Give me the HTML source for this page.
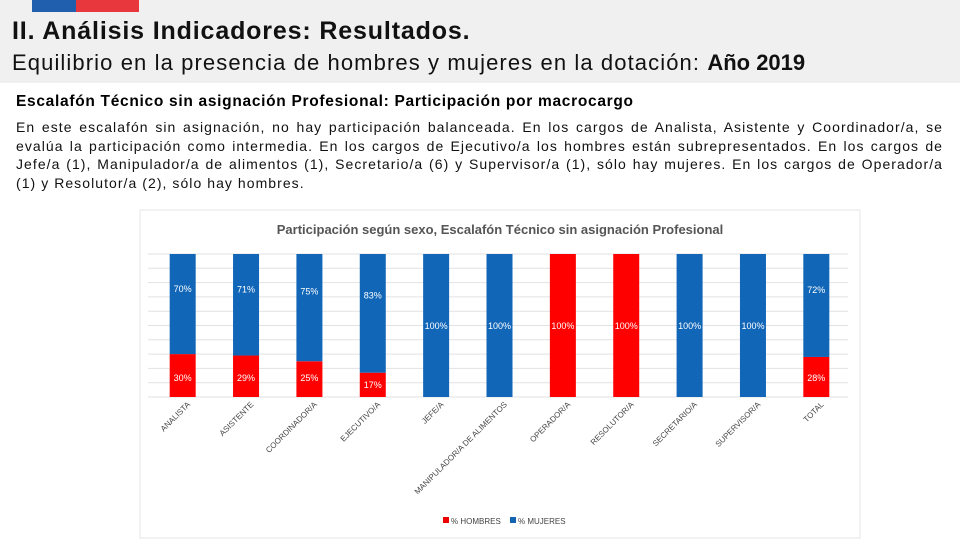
<!DOCTYPE html>
<html><head><meta charset="utf-8"><style>
body{margin:0;width:960px;height:540px;position:relative;background:#fff;font-family:"Liberation Sans",sans-serif;overflow:hidden}
.hdr{position:absolute;left:0;top:0;width:960px;height:83px;background:#f0f0f0}
.t1{position:absolute;left:12px;top:17px;font-size:25px;font-weight:bold;color:#111;white-space:nowrap;letter-spacing:0.85px}
.t2{position:absolute;left:12px;top:50px;font-size:22px;color:#111;white-space:nowrap;letter-spacing:1.1px}
.t2 b{font-weight:bold;letter-spacing:0}
.t3{position:absolute;left:16px;top:93px;font-size:15.5px;font-weight:bold;color:#000;white-space:nowrap;letter-spacing:0.7px}
.p{position:absolute;left:16px;top:118px;width:927px;font-size:14px;line-height:18.5px;color:#111;text-align:justify;letter-spacing:1.05px}
</style></head><body>
<div class="hdr"></div>
<div style="position:absolute;left:32px;top:0;width:44px;height:12px;background:#1f5fad"></div>
<div style="position:absolute;left:76px;top:0;width:63px;height:12px;background:#e8383d"></div>
<div class="t1">II. Análisis Indicadores: Resultados.</div>
<div class="t2">Equilibrio en la presencia de hombres y mujeres en la dotación: <b>Año 2019</b></div>
<div class="t3">Escalafón Técnico sin asignación Profesional: Participación por macrocargo</div>
<div class="p">En este escalafón sin asignación, no hay participación balanceada. En los cargos de Analista, Asistente y Coordinador/a, se evalúa la participación como intermedia. En los cargos de Ejecutivo/a los hombres están subrepresentados. En los cargos de Jefe/a (1), Manipulador/a de alimentos (1), Secretario/a (6) y Supervisor/a (1), sólo hay mujeres. En los cargos de Operador/a (1) y Resolutor/a (2), sólo hay hombres.</div>
<svg id="chart" style="position:absolute;left:0;top:0" width="960" height="540">
<rect x="140" y="210" width="720" height="328" fill="#fff" stroke="#e6e6e6"/>
<text x="500" y="234" text-anchor="middle" font-size="13" font-weight="bold" fill="#555" font-family="Liberation Sans, sans-serif">Participación según sexo, Escalafón Técnico sin asignación Profesional</text>
<g id="grid"></g><g id="bars"></g><g id="labels"></g>
<rect x="443" y="517" width="6" height="6" fill="#e00"/>
<text x="451" y="524" font-size="8" fill="#444" font-family="Liberation Sans, sans-serif">% HOMBRES</text>
<rect x="510" y="517" width="6" height="6" fill="#1464b4"/>
<text x="518" y="524" font-size="8" fill="#444" font-family="Liberation Sans, sans-serif">% MUJERES</text>
</svg>
<script>
const categories=["ANALISTA","ASISTENTE","COORDINADOR/A","EJECUTIVO/A","JEFE/A","MANIPULADOR/A DE ALIMENTOS","OPERADOR/A","RESOLUTOR/A","SECRETARIO/A","SUPERVISOR/A","TOTAL"];
const hombres=[30,29,25,17,0,0,100,100,0,0,28];
const mujeres=[70,71,75,83,100,100,0,0,100,100,72];
const yTicks=[0,10,20,30,40,50,60,70,80,90,100];
const NS="http://www.w3.org/2000/svg";
const top0=254,bot=397,left=151,right=848;
const step=(right-left)/categories.length;
const y=v=>bot-(bot-top0)*v/100;
const x=i=>left+step*(i+0.5);
function mk(t,a,p){const e=document.createElementNS(NS,t);for(const k in a)e.setAttribute(k,a[k]);p.appendChild(e);return e;}
const g=document.getElementById('grid'),b=document.getElementById('bars'),l=document.getElementById('labels');
yTicks.forEach(v=>{const e=mk('line',{x1:148,x2:848,y1:y(v),y2:y(v),stroke:'#e2e2e2','stroke-width':1},g);

});
const bw=26;
categories.forEach((c,i)=>{
 const cx=x(i);
 const h=hombres[i],m=mujeres[i];
 const rh=mk('rect',{x:cx-bw/2,y:y(h),width:bw,height:bot-y(h),fill:'#f00'},b);
 
 
 const rm=mk('rect',{x:cx-bw/2,y:y(h+m),width:bw,height:y(h)-y(h+m),fill:'#1166b8'},b);
 
 
 const st={'font-size':9,fill:'#fff','text-anchor':'middle','font-family':'Liberation Sans, sans-serif'};
 if(m>0){const t=mk('text',Object.assign({x:cx,y:(m===100||h===100)?329:y(h+m*0.65)+3},st),l);t.textContent=m+'%';
 
 }
 if(h>0){const t=mk('text',Object.assign({x:cx,y:h===100?329:(h<20?bot-9:bot-16)},st),l);t.textContent=h+'%';
 
 }
 const tx=cx+8,ty=405;
 const t=mk('text',{x:tx,y:ty,'font-size':8,fill:'#444','text-anchor':'end','font-family':'Liberation Sans, sans-serif',transform:`rotate(-45 ${tx} ${ty})`},l);
 t.textContent=c;
 
 
});
</script>
</body></html>
